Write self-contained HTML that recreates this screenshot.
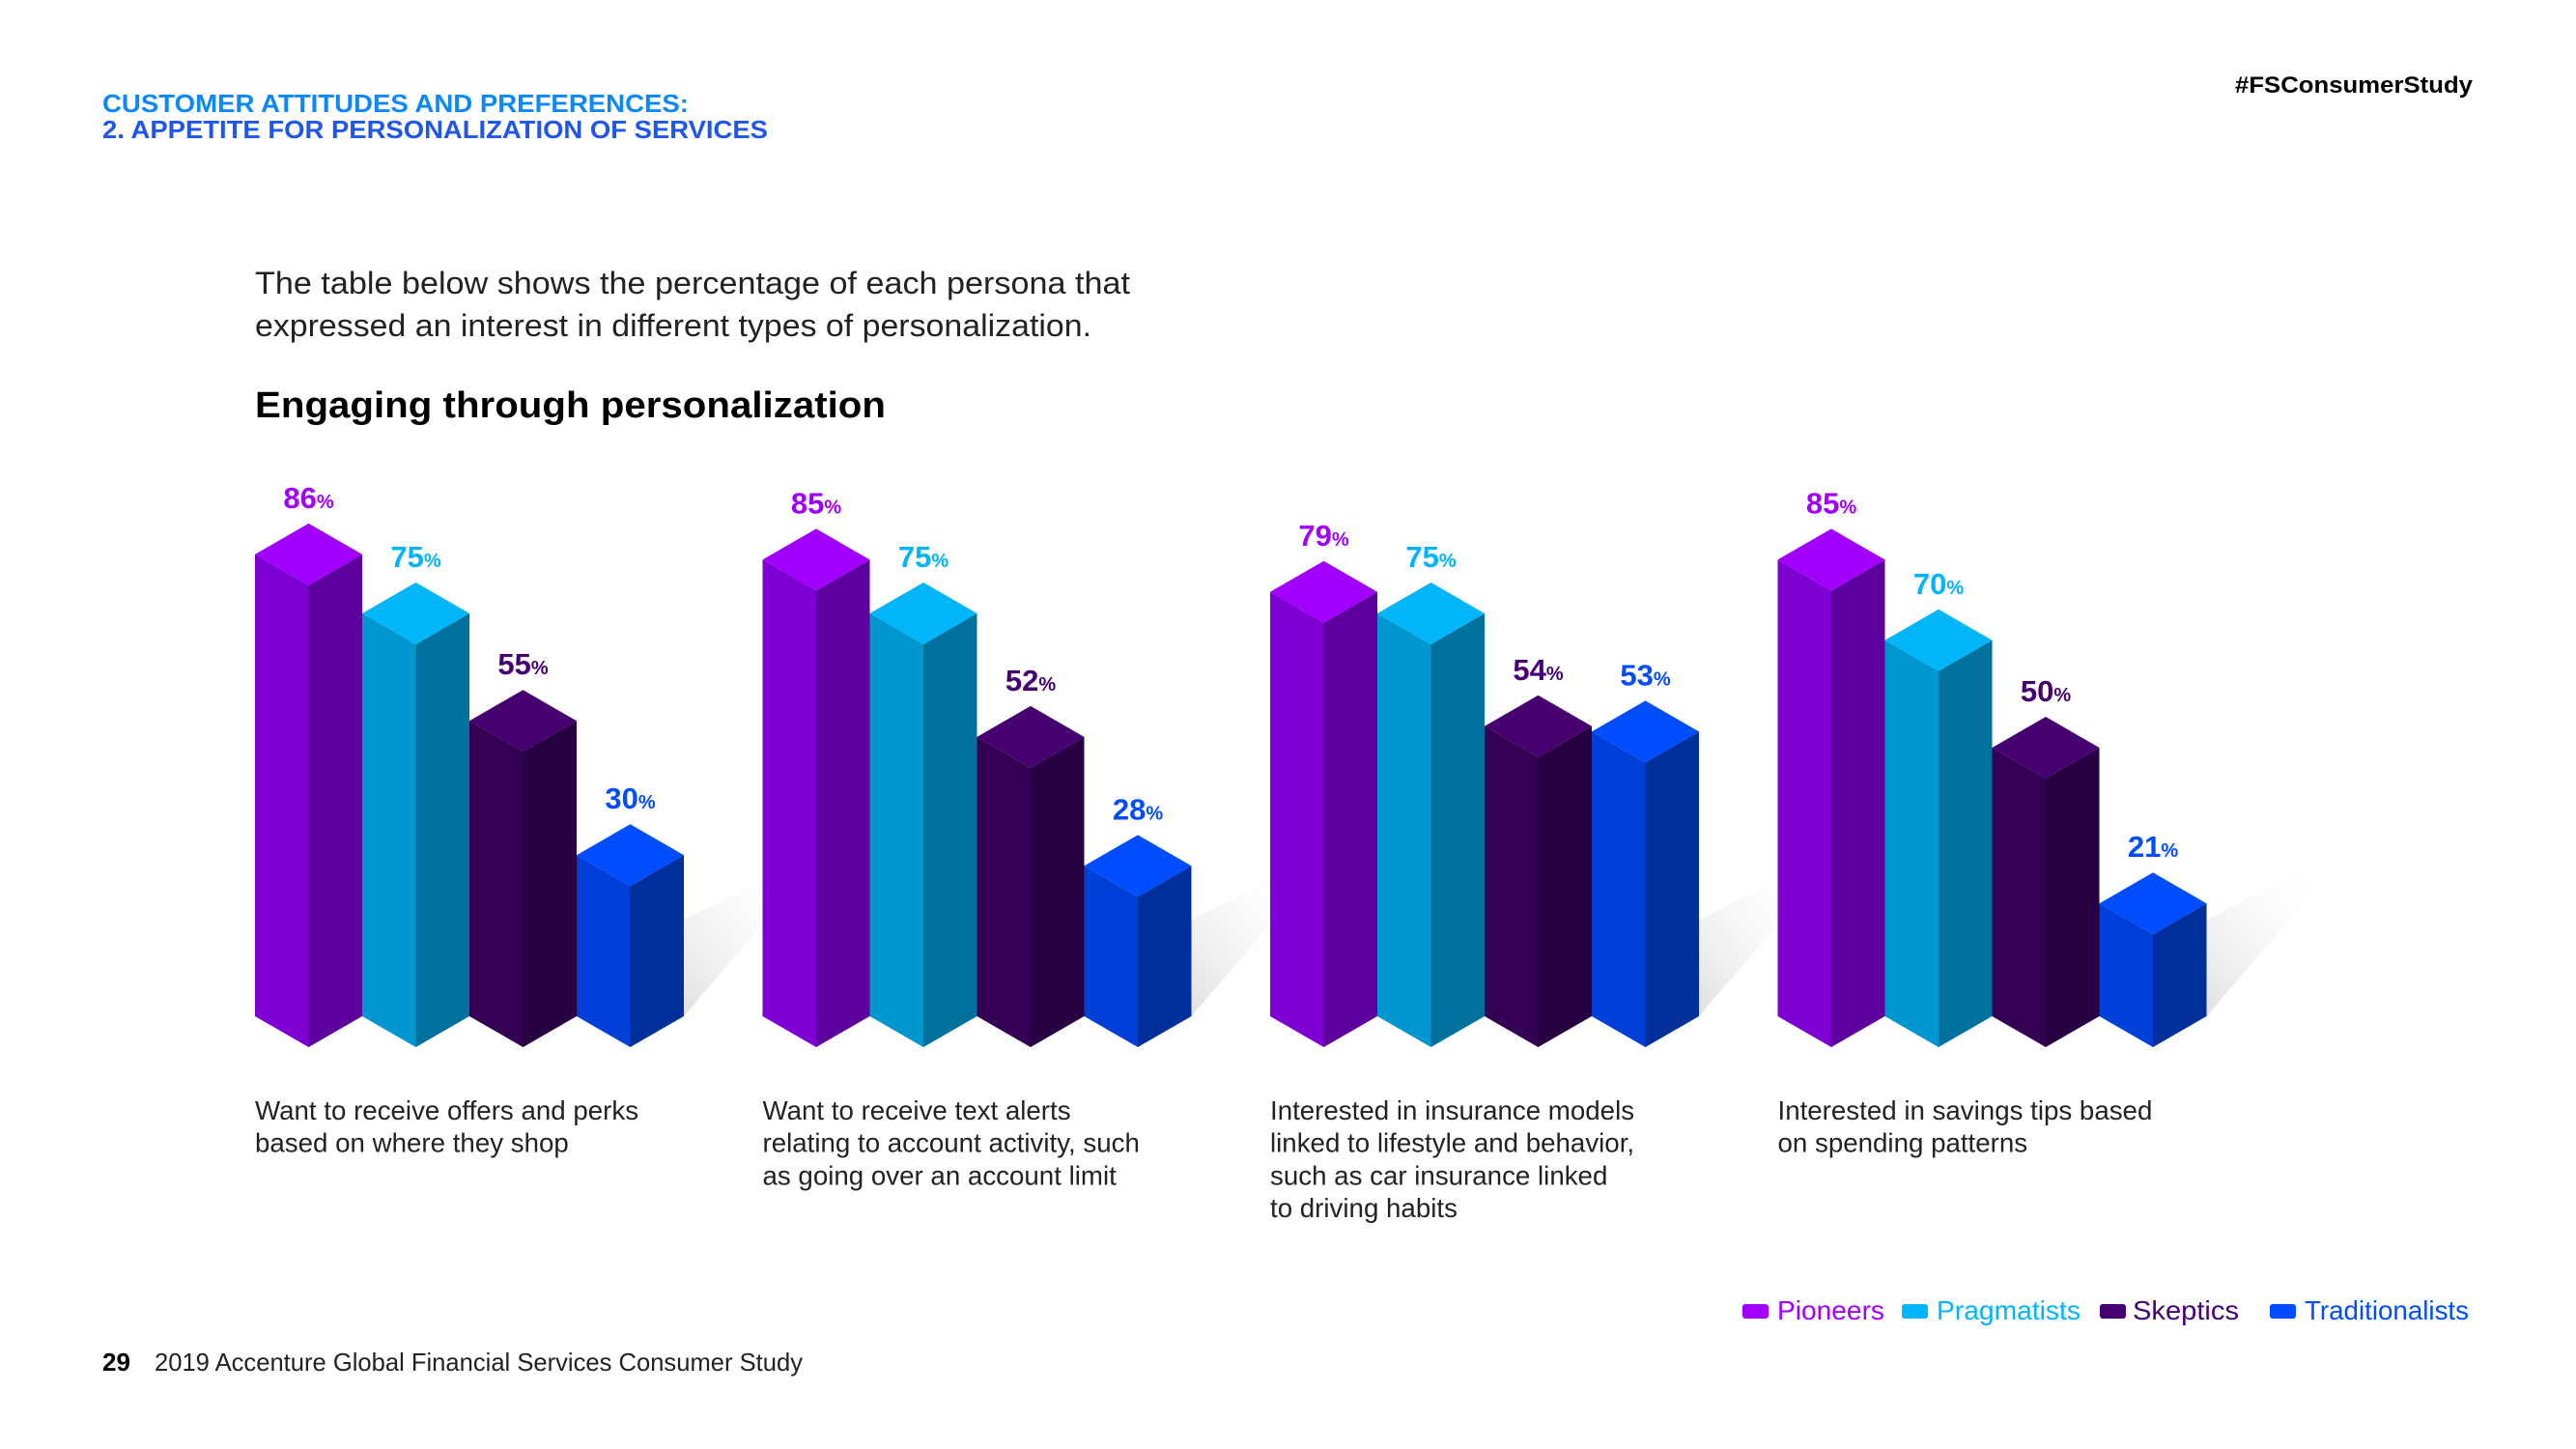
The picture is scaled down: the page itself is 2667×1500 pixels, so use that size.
<!DOCTYPE html>
<html><head><meta charset="utf-8"><style>
html,body{margin:0;padding:0;background:#fff;}
svg{display:block;font-family:"Liberation Sans",sans-serif;}
</style></head><body>
<svg id="chart" width="2667" height="1500" viewBox="0 0 2667 1500" xmlns="http://www.w3.org/2000/svg">
<defs>
<linearGradient id="shade" x1="0" y1="1" x2="1" y2="0"><stop offset="0" stop-color="#d8d8d8"/><stop offset="1" stop-color="#ffffff" stop-opacity="0"/></linearGradient>
</defs>
<text x="106" y="116" font-size="26" font-weight="bold" fill="#0d88f8" textLength="607" lengthAdjust="spacingAndGlyphs">CUSTOMER ATTITUDES AND PREFERENCES:</text>
<text x="106" y="143" font-size="26" font-weight="bold" fill="#1e56ee" textLength="689" lengthAdjust="spacingAndGlyphs">2. APPETITE FOR PERSONALIZATION OF SERVICES</text>
<text x="2560" y="96" font-size="24" font-weight="bold" fill="#000" text-anchor="end" textLength="246" lengthAdjust="spacingAndGlyphs">#FSConsumerStudy</text>
<text x="264" y="304" font-size="32" fill="#222" textLength="906" lengthAdjust="spacingAndGlyphs">The table below shows the percentage of each persona that</text>
<text x="264" y="348" font-size="32" fill="#222" textLength="866" lengthAdjust="spacingAndGlyphs">expressed an interest in different types of personalization.</text>
<text x="264" y="432" font-size="38" font-weight="bold" fill="#000" textLength="653" lengthAdjust="spacingAndGlyphs">Engaging through personalization</text>
<g id="bars"></g>
<g id="captions"></g>
<g transform="translate(-6,0)">
<rect x="1810" y="1350" width="27" height="15" rx="3" fill="#a100ff"/>
<text x="1846" y="1366" font-size="28" fill="#a100ff" textLength="111" lengthAdjust="spacingAndGlyphs">Pioneers</text>
<rect x="1975" y="1350" width="27" height="15" rx="3" fill="#00b4ff"/>
<text x="2011" y="1366" font-size="28" fill="#00b4ff" textLength="149" lengthAdjust="spacingAndGlyphs">Pragmatists</text>
<rect x="2180" y="1350" width="27" height="15" rx="3" fill="#460073"/>
<text x="2214" y="1366" font-size="28" fill="#460073" textLength="110" lengthAdjust="spacingAndGlyphs">Skeptics</text>
<rect x="2356" y="1350" width="27" height="15" rx="3" fill="#004dff"/>
<text x="2392" y="1366" font-size="28" fill="#004dff" textLength="170" lengthAdjust="spacingAndGlyphs">Traditionalists</text>
</g>
<text x="106" y="1419" font-size="26" font-weight="bold" fill="#000">29</text>
<text x="160" y="1419" font-size="26" fill="#222" textLength="671" lengthAdjust="spacingAndGlyphs">2019 Accenture Global Financial Services Consumer Study</text>
</svg>
<script>
const categories = ["Offers and perks", "Text alerts", "Insurance models", "Savings tips"];
const pioneers = [86, 85, 79, 85];
const pragmatists = [75, 75, 75, 70];
const skeptics = [55, 52, 54, 50];
const traditionalists = [30, 28, 53, 21];
const seriesNames = ["pioneers", "pragmatists", "skeptics", "traditionalists"];
const captionLines = [
  ["Want to receive offers and perks", "based on where they shop"],
  ["Want to receive text alerts", "relating to account activity, such", "as going over an account limit"],
  ["Interested in insurance models", "linked to lifestyle and behavior,", "such as car insurance linked", "to driving habits"],
  ["Interested in savings tips based", "on spending patterns"]
];

const NS = "http://www.w3.org/2000/svg";
const series = [pioneers, pragmatists, skeptics, traditionalists];
const colors = [
  {front:"#7f00d3", side:"#5c009e", top:"#a100ff", label:"#a100ff"},
  {front:"#0097d1", side:"#00709c", top:"#00b6f8", label:"#00b4ff"},
  {front:"#340054", side:"#260040", top:"#46006f", label:"#460073"},
  {front:"#0040d8", side:"#002e9a", top:"#004dff", label:"#004dff"}
];
const groupX0 = 264, groupPitch = 525.5, barPitch = 111, halfW = 55.5, dy = 32;
const baseY = 1052, pxPer = 5.56;
function xScale(g, s) { return groupX0 + g * groupPitch + s * barPitch; }
function yScale(v) { return baseY - v * pxPer; }

const barsG = document.getElementById("bars");
function poly(pts, fill, name) {
  const p = document.createElementNS(NS, "polygon");
  p.setAttribute("points", pts.map(q => q.join(",")).join(" "));
  p.setAttribute("fill", fill);
  
  
  barsG.appendChild(p);
  return p;
}
categories.forEach((cat, g) => {
  const xl = xScale(g, 3) + 2 * halfW;
  const sh = poly([[xl, baseY], [xl, baseY - 100], [xl + 100, baseY - 150], [xl + 120, baseY - 140]], "url(#shade)", "bar-shadow");
  sh.setAttribute("opacity", "0.8");
  series.forEach((arr, s) => {
    const v = arr[g];
    const x = xScale(g, s), cx = x + halfW, xr = x + 2 * halfW;
    const yt = yScale(v);
    const c = colors[s];
    const front = poly([[x, baseY], [x, yt], [cx, yt + dy], [cx, baseY + dy]], c.front, "bar-" + seriesNames[s] + "-front");
    
    poly([[cx, baseY + dy], [cx, yt + dy], [xr, yt], [xr, baseY]], c.side, "bar-" + seriesNames[s] + "-side");
    poly([[x, yt], [cx, yt - dy], [xr, yt], [cx, yt + dy]], c.top, "bar-" + seriesNames[s] + "-top");
    const t = document.createElementNS(NS, "text");
    t.setAttribute("x", cx);
    t.setAttribute("y", yt - dy - 16);
    t.setAttribute("text-anchor", "middle");
    t.setAttribute("font-weight", "bold");
    t.setAttribute("fill", c.label);
    
    
    const n = document.createElementNS(NS, "tspan");
    n.setAttribute("font-size", "31");
    n.textContent = v;
    const pc = document.createElementNS(NS, "tspan");
    pc.setAttribute("font-size", "20");
    pc.textContent = "%";
    t.appendChild(n); t.appendChild(pc);
    barsG.appendChild(t);
  });
});

const capG = document.getElementById("captions");
captionLines.forEach((lines, g) => {
  lines.forEach((ln, i) => {
    const t = document.createElementNS(NS, "text");
    t.setAttribute("x", xScale(g, 0));
    t.setAttribute("y", 1159 + i * 33.7);
    t.setAttribute("font-size", "27.7");
    t.setAttribute("fill", "#222");
    
    
    t.textContent = ln;
    capG.appendChild(t);
  });
});
</script>
</body></html>
